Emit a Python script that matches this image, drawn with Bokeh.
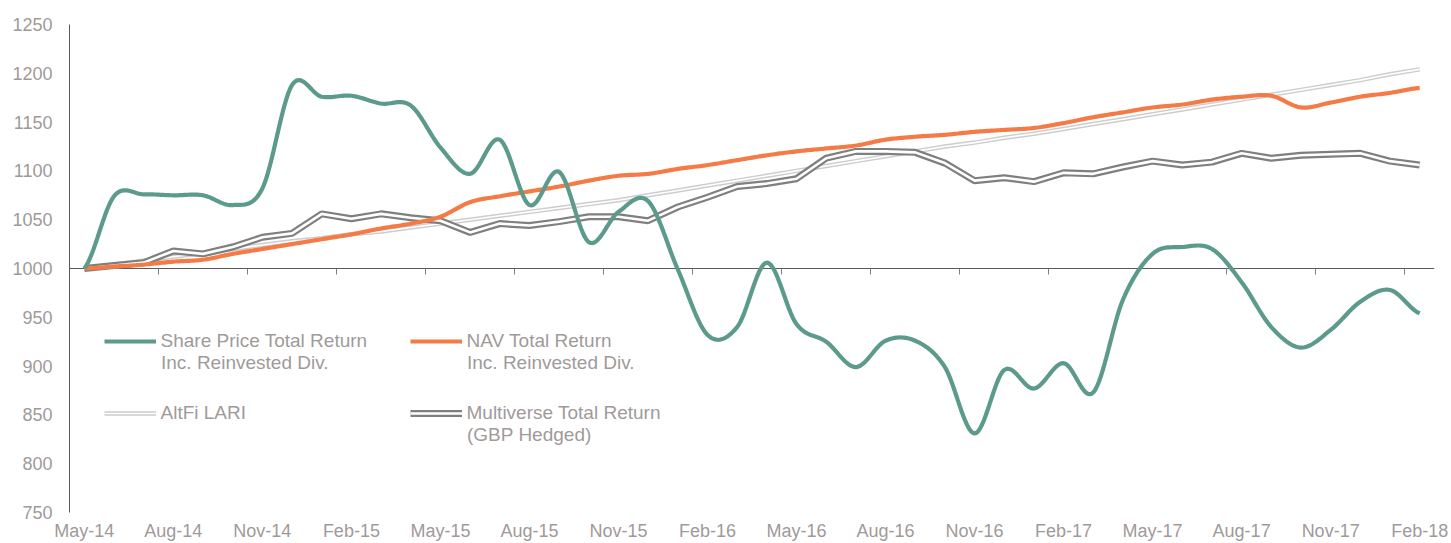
import numpy as np
import pandas as pd
from bokeh.plotting import figure
from bokeh.models import Range1d, LinearAxis, FixedTicker, Legend, LegendItem, Label
from bokeh.embed import file_html
from bokeh.resources import INLINE

# ---------------- data ----------------
months = list(pd.date_range("2014-05-01", periods=46, freq="MS").strftime("%b-%y"))

share_price = [1000, 1074, 1076, 1075, 1075, 1065, 1082, 1188, 1176, 1177,
               1169, 1167, 1124, 1097, 1132, 1065, 1099, 1027, 1058, 1069,
               999, 932, 940, 1006, 943, 925, 899, 926, 926, 899,
               831, 896, 877, 903, 873, 968, 1015, 1022, 1020, 986,
               940, 919, 937, 966, 978, 954]

nav = [1000, 1002, 1004, 1007, 1009, 1015, 1020, 1025, 1030, 1035,
       1041, 1046, 1053, 1068, 1074, 1079, 1084, 1090, 1095, 1097,
       1102, 1106, 1111, 1116, 1120, 1123, 1126, 1132, 1135, 1137,
       1140, 1142, 1144, 1149, 1155, 1160, 1165, 1168, 1173, 1176,
       1177, 1165, 1170, 1176, 1180, 1185]

altfi = [1000, 1004, 1008, 1012, 1016, 1020, 1024, 1028, 1031, 1035,
         1038, 1042, 1046, 1050, 1054, 1058, 1062, 1066, 1070, 1075,
         1080, 1085, 1090, 1095, 1100, 1105, 1110, 1115, 1120, 1125,
         1129, 1134, 1138, 1143, 1148, 1153, 1158, 1163, 1168, 1173,
         1178, 1183, 1188, 1193, 1199, 1204]

multiverse = [1000, 1003, 1006, 1018, 1015, 1022, 1032, 1036, 1056, 1051,
              1056, 1052, 1049, 1037, 1046, 1044, 1048, 1053, 1053, 1049,
              1063, 1073, 1084, 1087, 1092, 1113, 1120, 1120, 1119, 1108,
              1090, 1093, 1089, 1098, 1097, 1104, 1110, 1106, 1109, 1118,
              1113, 1116, 1117, 1118, 1110, 1106]

series_names = ["Share Price Total Return", "NAV Total Return",
                "AltFi LARI", "Multiverse Total Return"]
series_sub = ["Inc. Reinvested Div.", "Inc. Reinvested Div.", "", "(GBP Hedged)"]
y_ticks = list(range(750, 1251, 50))
label_step = 3

# ---------------- styling ----------------
FONT = "Liberation Sans"
FS = "18px"
LFS = "19px"
TXT = "#9F9A9A"
AXIS = "#595959"
TEAL = "#5C9A8C"
ORANGE = "#F47B45"
PALE = "#CDCDCD"
DARK = "#7F7F7F"

W, H = 1451, 543
BL, BR, BT, BB = 69, 17, 24, 31
n = len(months)
x = list(range(n))


def smooth(vals, k=16):
    v = np.asarray(vals, float)
    xs, ys = [], []
    for i in range(len(v) - 1):
        p0 = v[i - 1] if i > 0 else v[i]
        p1, p2 = v[i], v[i + 1]
        p3 = v[i + 2] if i + 2 < len(v) else v[i + 1]
        c1 = p1 + (p2 - p0) / 6.0
        c2 = p2 - (p3 - p1) / 6.0
        t = np.linspace(0, 1, k, endpoint=(i == len(v) - 2))
        b = (1 - t) ** 3 * p1 + 3 * (1 - t) ** 2 * t * c1 + 3 * (1 - t) * t ** 2 * c2 + t ** 3 * p2
        xs.extend(i + t)
        ys.extend(b)
    return xs, ys


p = figure(width=W, height=H, output_backend="svg", toolbar_location=None,
           x_range=Range1d(-0.5, n - 0.5), y_range=Range1d(750, 1250),
           x_axis_location=None, y_axis_location="left",
           min_border_left=BL, min_border_right=BR, min_border_top=BT, min_border_bottom=BB)
p.outline_line_color = None
p.xgrid.visible = False
p.ygrid.visible = False
p.background_fill_color = "white"
p.border_fill_color = "white"

yax = p.yaxis[0]
yax.ticker = FixedTicker(ticks=y_ticks)
yax.major_tick_out = 0
yax.major_tick_in = 0
yax.minor_tick_line_color = None
yax.major_tick_line_color = None
yax.axis_line_color = AXIS
yax.axis_line_width = 1
yax.major_label_standoff = 17
yax.major_label_text_font = FONT
yax.major_label_text_font_size = FS
yax.major_label_text_color = TXT

# horizontal axis line crossing at 1000 with tick marks between quarters
bounds = [i + 0.5 for i in range(label_step - 1, n - 1, label_step)]
zero_ax = LinearAxis(fixed_location=1000, ticker=FixedTicker(ticks=bounds),
                     major_label_overrides={b: "" for b in bounds},
                     major_label_text_alpha=0,
                     major_tick_out=6, major_tick_in=0,
                     major_tick_line_color=DARK, minor_tick_line_color=None,
                     axis_line_color=AXIS, axis_line_width=1, level="underlay")
p.add_layout(zero_ax, "below")

# month labels at the bottom
lab_ticks = list(range(0, n, label_step))
lab_ax = LinearAxis(ticker=FixedTicker(ticks=lab_ticks),
                    major_label_overrides={i: months[i] for i in lab_ticks},
                    axis_line_color=None, major_tick_line_color=None,
                    minor_tick_line_color=None, major_tick_out=0, major_tick_in=0,
                    major_label_standoff=8, major_label_text_font=FONT,
                    major_label_text_font_size=FS, major_label_text_color=TXT)
p.add_layout(lab_ax, "below")

# series
r_alt_o = p.line(x, altfi, line_color=PALE, line_width=4.5)
r_alt_i = p.line(x, altfi, line_color="white", line_width=1.6)
r_mv_o = p.line(x, multiverse, line_color=DARK, line_width=7)
r_mv_i = p.line(x, multiverse, line_color="white", line_width=2.6)
nx, ny = smooth(nav)
r_nav = p.line(nx, ny, line_color=ORANGE, line_width=4.2)
sx, sy = smooth(share_price)
r_sp = p.line(sx, sy, line_color=TEAL, line_width=4.2)

# legend (layout in pixels of the picture)
GW, GH, STAND = 52, 22, 5
frame_bottom = H - BB


def px2x(px):
    return -0.5 + (px - BL) / (W - BL - BR) * n


def px2y(py):
    return 1250 - (py - BT) / (H - BT - BB) * 500


legend_specs = [
    (series_names[0], series_sub[0], [r_sp], 103.5, 340.5),
    (series_names[1], series_sub[1], [r_nav], 409.5, 340.5),
    (series_names[2], series_sub[2], [r_alt_o, r_alt_i], 103.5, 412.5),
    (series_names[3], series_sub[3], [r_mv_o, r_mv_i], 409.5, 412.5),
]
for name, sub, rends, lx, ly in legend_specs:
    vx = lx - BL
    vy = frame_bottom - (ly + GH / 2)
    leg = Legend(items=[LegendItem(label=name, renderers=rends)], location=(vx, vy),
                 glyph_width=GW, glyph_height=GH, label_height=GH, label_standoff=STAND,
                 padding=0, margin=0, spacing=0, border_line_color=None,
                 background_fill_alpha=0, label_text_font=FONT,
                 label_text_font_size=LFS, label_text_color=TXT)
    p.add_layout(leg)
    if sub:
        p.add_layout(Label(x=px2x(lx + GW + STAND), y=px2y(ly + 21), text=sub,
                           text_font=FONT, text_font_size=LFS, text_color=TXT,
                           text_baseline="middle", text_align="left"))

open("out.html", "w").write(file_html(p, INLINE))
